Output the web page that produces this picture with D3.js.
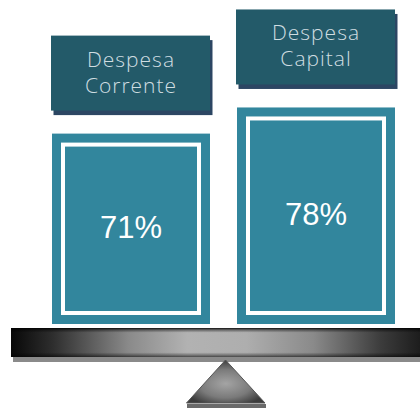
<!DOCTYPE html>
<html>
<head>
<meta charset="utf-8">
<script src="https://cdn.jsdelivr.net/npm/d3@7"></script>
<style>
  html, body { margin: 0; padding: 0; background: #fff; }
  svg { display: block; }
</style>
</head>
<body>
<svg id="chart" width="420" height="408"></svg>
<script>
// data
const categories = ["Despesa Corrente", "Despesa Capital"];
const labelLines = [["Despesa", "Corrente"], ["Despesa", "Capital"]];
const values = [71, 78];

const svg = d3.select("#chart");
const baseY = 324;

// scales
const x = d3.scaleBand().domain(categories).range([52, 395]).paddingInner(0.146).paddingOuter(0);
const y = d3.scaleLinear().domain([20, 80]).range([baseY, 100]);

const defs = svg.append("defs");

// beam gradient (horizontal)
const beamGrad = defs.append("linearGradient").attr("id", "beam-h");
[[0, "#080808"], [0.1, "#2e2e2e"], [0.28, "#8a8a8a"], [0.42, "#b2b2b2"], [0.56, "#aeaeae"], [0.72, "#8a8a8a"], [0.88, "#3c3c3c"], [1, "#141414"]]
  .forEach(s => beamGrad.append("stop").attr("offset", s[0]).attr("stop-color", s[1]));
const beamV = defs.append("linearGradient").attr("id", "beam-v").attr("x1", 0).attr("y1", 0).attr("x2", 0).attr("y2", 1);
[[0, "#000", 0.9], [0.07, "#000", 0.4], [0.16, "#000", 0], [0.84, "#000", 0], [0.94, "#000", 0.35], [1, "#000", 0.6]]
  .forEach(s => beamV.append("stop").attr("offset", s[0]).attr("stop-color", s[1]).attr("stop-opacity", s[2]));

const triGrad = defs.append("radialGradient").attr("id", "tri-g")
  .attr("cx", 0.5).attr("cy", 0.55).attr("r", 0.55);
[[0, "#a4a4a4"], [0.6, "#7a7a7a"], [1, "#3c3c3c"]]
  .forEach(s => triGrad.append("stop").attr("offset", s[0]).attr("stop-color", s[1]));

// bars
const bars = svg.selectAll("g.bar").data(values).join("g").attr("class", "bar");

bars.append("rect")
  .attr("x", (d, i) => x(categories[i]))
  .attr("y", d => y(d))
  .attr("width", x.bandwidth())
  .attr("height", d => baseY - y(d))
  .attr("fill", "#32869d");

bars.append("rect")
  .attr("x", (d, i) => x(categories[i]) + 11)
  .attr("y", d => y(d) + 11)
  .attr("width", x.bandwidth() - 22)
  .attr("height", d => baseY - y(d) - 22)
  .attr("fill", "none")
  .attr("stroke", "#fff")
  .attr("stroke-width", 4);

bars.append("text")
  .attr("x", (d, i) => x(categories[i]) + x.bandwidth() / 2)
  .attr("y", d => (y(d) + baseY) / 2 + 9)
  .attr("text-anchor", "middle")
  .attr("font-family", "Liberation Sans, Arial, sans-serif")
  .attr("font-size", 31)
  .attr("fill", "#fff")
  .text(d => d + "%");

// label boxes
const labels = svg.selectAll("g.label").data(values).join("g").attr("class", "label");

labels.append("rect")
  .attr("x", (d, i) => x(categories[i]) - 1 + 2.5)
  .attr("y", d => y(d) - 98 + 4.5)
  .attr("width", x.bandwidth() + 1)
  .attr("height", 75)
  .attr("fill", "#2c4663");

labels.append("rect")
  .attr("x", (d, i) => x(categories[i]) - 1)
  .attr("y", d => y(d) - 98)
  .attr("width", x.bandwidth() + 1)
  .attr("height", 75)
  .attr("fill", "#235a69");

labels.each(function(d, i) {
  const g = d3.select(this);
  const cx = x(categories[i]) + x.bandwidth() / 2;
  const cy = y(d) - 98 + 37.5;
  g.selectAll("text").data(labelLines[i]).join("text")
    .attr("x", cx)
    .attr("y", (t, j) => cy - 6.5 + j * 26)
    .attr("text-anchor", "middle")
    .attr("font-family", "Open Sans, Lato, sans-serif")
    .attr("font-weight", 300)
    .attr("font-size", 21)
    .attr("letter-spacing", 1)
    .attr("fill", "#cfdde1")
    .text(t => t);
});

// balance beam
svg.append("rect").attr("x", 13).attr("y", 355).attr("width", 420).attr("height", 7).attr("fill", "#8a8a8a");
svg.append("rect").attr("x", 11).attr("y", 328).attr("width", 420).attr("height", 29).attr("fill", "url(#beam-h)");
svg.append("rect").attr("x", 11).attr("y", 328).attr("width", 420).attr("height", 29).attr("fill", "url(#beam-v)");

// fulcrum
svg.append("rect").attr("x", 187).attr("y", 404).attr("width", 79).attr("height", 6).attr("fill", "#6a6a6a");
svg.append("path")
  .attr("d", d3.line()([[225.5, 360], [265, 403], [186.5, 403]]) + "Z")
  .attr("fill", "url(#tri-g)")
  .attr("stroke", "#555")
  .attr("stroke-width", 1);
</script>
</body>
</html>
